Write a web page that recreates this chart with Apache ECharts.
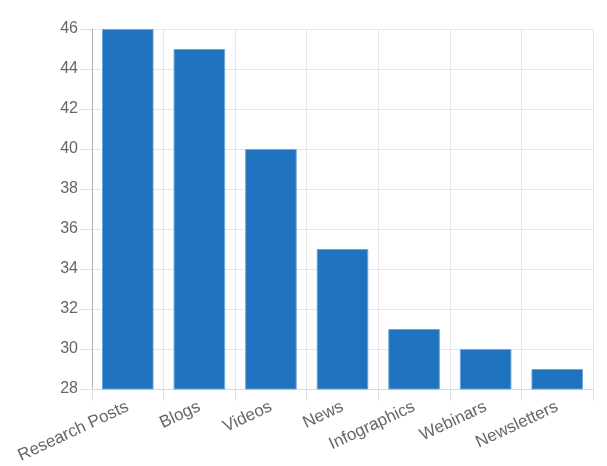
<!DOCTYPE html>
<html>
<head>
<meta charset="utf-8">
<script src="https://cdn.jsdelivr.net/npm/echarts@6/dist/echarts.min.js"></script>
<style>html,body{margin:0;padding:0;background:#fff}#c{width:607px;height:466px}</style>
</head>
<body>
<div id="c"></div>
<script>
const categories = ["Research Posts", "Blogs", "Videos", "News", "Infographics", "Webinars", "Newsletters"];
const values = [46, 45, 40, 35, 31, 30, 29];
const yMin = 28, yMax = 46, yStep = 2;

const chart = echarts.init(document.getElementById('c'), null, {renderer: 'canvas'});
chart.setOption({
  animation: false,
  grid: {left: 92, right: 14, top: 29, bottom: 77, containLabel: false},
  xAxis: {
    type: 'category',
    data: categories,
    boundaryGap: true,
    axisLine: {show: true, lineStyle: {color: '#d9d9d9', width: 1}},
    axisTick: {show: true, length: 12, alignWithLabel: false, lineStyle: {color: '#e0e0e0'}},
    splitLine: {show: true, lineStyle: {color: '#e6e6e6', width: 1}},
    axisLabel: {
      rotate: 25, color: '#666', fontSize: 17,
      fontFamily: 'Liberation Sans, Arial, sans-serif', margin: 17, interval: 0
    }
  },
  yAxis: {
    type: 'value',
    min: yMin, max: yMax, interval: yStep,
    axisLine: {show: true, lineStyle: {color: '#b3b3b3', width: 1}},
    axisTick: {show: true, length: 12, lineStyle: {color: '#e0e0e0'}},
    splitLine: {show: true, lineStyle: {color: '#e6e6e6', width: 1}},
    axisLabel: {color: '#666', fontSize: 16, fontFamily: 'Liberation Sans, Arial, sans-serif', margin: 14}
  },
  series: [{
    type: 'bar',
    data: values,
    barCategoryGap: '28%',
    itemStyle: {color: '#1f72be', borderColor: '#6fa6d9', borderWidth: 1}
  }]
});
</script>
</body>
</html>
